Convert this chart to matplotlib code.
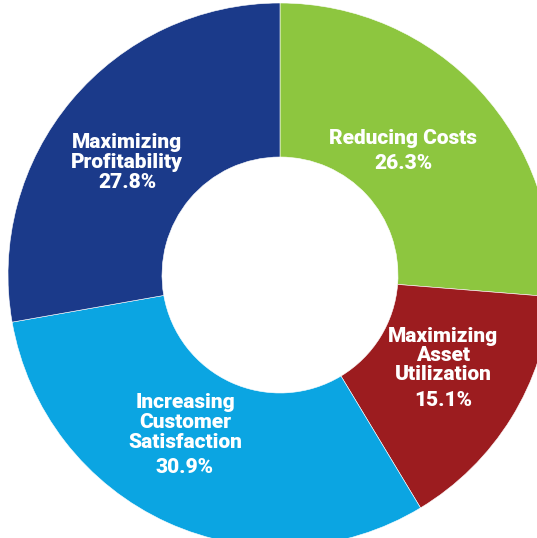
import matplotlib
matplotlib.use("Agg")
import matplotlib.pyplot as plt

categories = ["Reducing Costs", "Maximizing\nAsset\nUtilization",
              "Increasing\nCustomer\nSatisfaction", "Maximizing\nProfitability"]
shares = [26.3, 15.1, 30.9, 27.8]
colors = ["#8DC63F", "#9C1C1F", "#0BA5E2", "#1B3A8A"]

# label anchor points (pixel coords in the 537x538 image) and gap before the %
label_px = [(403, 138), (443, 336), (185, 403), (127, 143)]
pct_gap = [1.3, 1.3, 1.3, 1.0]

W, H = 537, 538
CX, CY, R = 280, 275, 272
HOLE = 118


def to_data(px, py):
    return (px - CX) / R, (CY - py) / R


fig = plt.figure(figsize=(W / 100, H / 100), dpi=100)
ax = fig.add_axes([0, 0, 1, 1])
ax.pie(shares, colors=colors, startangle=90, counterclock=False, radius=1.0,
       wedgeprops=dict(width=1 - HOLE / R, edgecolor="white", linewidth=0.4))
ax.set_xlim(-CX / R, (W - CX) / R)
ax.set_ylim(-(H - CY) / R, CY / R)
ax.set_aspect("auto")
ax.axis("off")

font = dict(family=["Roboto", "DejaVu Sans"], weight="black", color="white",
            fontsize=15)
line_h = 19.5
for name, val, (px, py), gap in zip(categories, shares, label_px, pct_gap):
    n = name.count("\n") + 1
    for i, line in enumerate(name.split("\n")):
        x, y = to_data(px, py + i * line_h)
        ax.text(x, y, line, ha="center", va="center", **font)
    x, y = to_data(px, py + (n - 1) * line_h + line_h * gap)
    ax.text(x, y, f"{val}%", ha="center", va="center", **font)

fig.savefig("out.png", dpi=100, facecolor="white")
